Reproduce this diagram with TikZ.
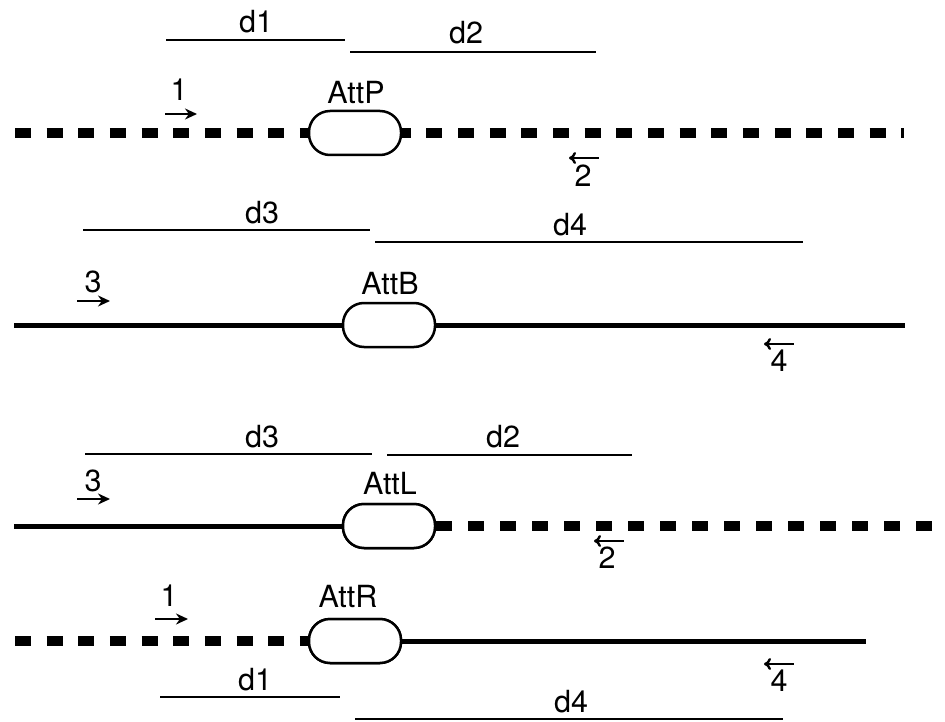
\documentclass[tikz,border=0pt]{standalone}
\usepackage{fontspec}
\setmainfont{TeX Gyre Heros}
\usetikzlibrary{arrows.meta}
\begin{document}
\begin{tikzpicture}[x=1pt,y=-1pt,
  lbl/.style={font=\fontsize{30.5}{34}\selectfont, inner sep=0pt},
  capsule/.style={draw, rounded corners=21pt, minimum width=92pt, minimum height=44pt, line width=2.5pt, fill=white, inner sep=0pt},
  seg/.style={line width=2.5pt},
  dashline/.style={line width=10pt, dash pattern=on 16pt off 15.65pt},
  solidline/.style={line width=5pt},
  rarr/.style={line width=2.8pt, -{Stealth[length=12pt,width=11pt]}},
  larr/.style={line width=2.4pt, {To[length=7pt,width=12pt]}-},
]
\path[use as bounding box] (0,0) rectangle (945,722);

% ---------- Row 1 : AttP ----------
\coordinate (r1a) at (15,133);
\coordinate (r1b) at (904,133);
\draw[dashline] (r1a) -- (r1b);
\node[capsule] (P) at (355,133) {};
\node[lbl] (tP) at (356,92) {AttP};
\coordinate (d1a) at (166,40); \coordinate (d1b) at (345,40);
\draw[seg] (d1a) -- (d1b);
\node[lbl] (td1) at (256,22) {d1};
\coordinate (d2a) at (350,52); \coordinate (d2b) at (596,52);
\draw[seg] (d2a) -- (d2b);
\node[lbl] (td2) at (466,33) {d2};
\node[lbl] (n1a) at (179,90) {1};
\coordinate (a1s) at (165,114); \coordinate (a1e) at (197,114);
\draw[rarr] (a1s) -- (a1e);
\coordinate (a2s) at (569,158); \coordinate (a2e) at (599,158);
\draw[larr] (a2s) -- (a2e);
\node[lbl] (n2a) at (583,176) {2};

% ---------- Row 2 : AttB ----------
\coordinate (r2a) at (14,325);
\coordinate (r2b) at (905,325);
\draw[solidline] (r2a) -- (r2b);
\node[capsule] (B) at (389,325) {};
\node[lbl] (tB) at (390,283) {AttB};
\coordinate (d3a) at (83,230); \coordinate (d3b) at (370,230);
\draw[seg] (d3a) -- (d3b);
\node[lbl] (td3) at (262,213) {d3};
\coordinate (d4a) at (375,242); \coordinate (d4b) at (803,242);
\draw[seg] (d4a) -- (d4b);
\node[lbl] (td4) at (570,225) {d4};
\node[lbl] (n3a) at (93,282) {3};
\coordinate (a3s) at (77,301); \coordinate (a3e) at (110,301);
\draw[rarr] (a3s) -- (a3e);
\coordinate (a4s) at (764,344); \coordinate (a4e) at (794,344);
\draw[larr] (a4s) -- (a4e);
\node[lbl] (n4a) at (779,361) {4};

% ---------- Row 3 : AttL ----------
\node[capsule] (L) at (389,526) {};
\coordinate (r3a) at (14,526);
\coordinate (r3b) at (945,526);
\draw[solidline] (r3a) -- (L.west);
\draw[line width=10pt, dash pattern=on 16pt off 16pt] (L.east) -- (r3b);
\node[capsule] at (L) {};
\node[lbl] (tL) at (390,483) {AttL};
\coordinate (e3a) at (85,454); \coordinate (e3b) at (372,454);
\draw[seg] (e3a) -- (e3b);
\node[lbl] (te3) at (262,437) {d3};
\coordinate (e2a) at (387,455); \coordinate (e2b) at (632,455);
\draw[seg] (e2a) -- (e2b);
\node[lbl] (te2) at (503,437) {d2};
\node[lbl] (n3b) at (93,481) {3};
\coordinate (b3s) at (77,499); \coordinate (b3e) at (110,499);
\draw[rarr] (b3s) -- (b3e);
\coordinate (b2s) at (594,541); \coordinate (b2e) at (624,541);
\draw[larr] (b2s) -- (b2e);
\node[lbl] (n2b) at (607,558) {2};

% ---------- Row 4 : AttR ----------
\node[capsule] (R) at (355,641) {};
\coordinate (r4a) at (15,641);
\coordinate (r4b) at (866,641);
\draw[dashline] (r4a) -- (R.east);
\draw[solidline] (R.east) -- (r4b);
\node[capsule] at (R) {};
\node[lbl] (tR) at (348,596) {AttR};
\node[lbl] (n1b) at (169,596) {1};
\coordinate (b1s) at (155,619); \coordinate (b1e) at (188,619);
\draw[rarr] (b1s) -- (b1e);
\coordinate (b4s) at (764,664); \coordinate (b4e) at (794,664);
\draw[larr] (b4s) -- (b4e);
\node[lbl] (n4b) at (779,681) {4};
\coordinate (f1a) at (160,697); \coordinate (f1b) at (340,697);
\draw[seg] (f1a) -- (f1b);
\node[lbl] (tf1) at (255,680) {d1};
\coordinate (f4a) at (355,719); \coordinate (f4b) at (783,719);
\draw[seg] (f4a) -- (f4b);
\node[lbl] (tf4) at (571,702) {d4};
\end{tikzpicture}
\end{document}
